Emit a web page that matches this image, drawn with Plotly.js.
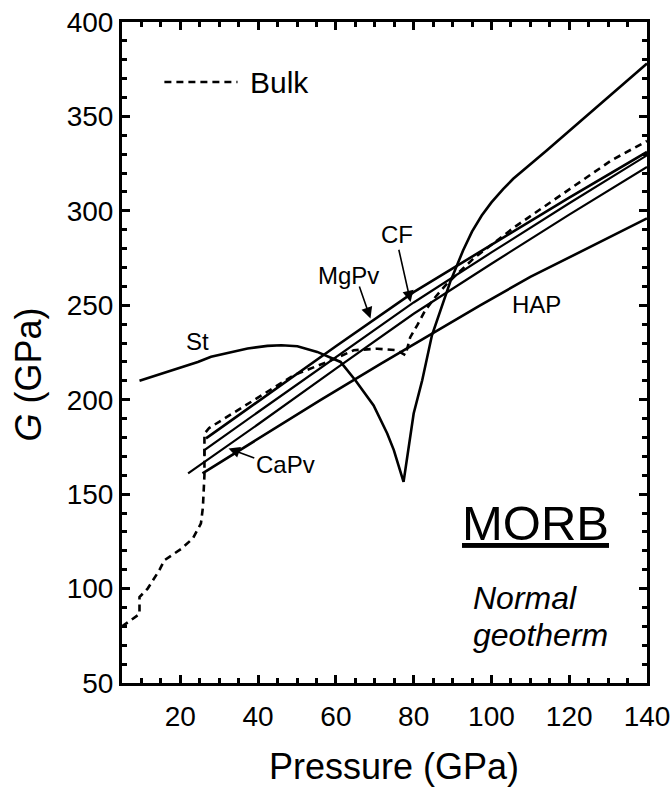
<!DOCTYPE html>
<html>
<head>
<meta charset="utf-8">
<script src="https://cdn.plot.ly/plotly-3.0.1.min.js"></script>
<style>
html,body{margin:0;padding:0;background:#fff;}
#chart{width:672px;height:789px;}
</style>
</head>
<body>
<div id="chart"></div>
<script>
// Bulk (dashed)
const bulkP = [5, 9.5, 9.5, 11.6, 14.6, 15.9, 20.2, 23.2, 25.3, 25.8, 26.2, 26.2, 27.4, 39, 49.2, 57.8, 64.6, 70.6, 75.7, 77.9, 79.1, 80.9, 83, 85.6, 88.6, 95.4, 106, 117.2, 130.9, 140];
const bulkG = [80, 86.5, 95.5, 100, 109.7, 115, 121, 126.5, 134.5, 143, 160, 182, 185, 199.7, 213, 220, 226.2, 227, 226.2, 223.6, 233, 239.4, 247.4, 254.4, 261.5, 274.8, 291.5, 307.4, 326.8, 337];
// Stishovite
const stP = [9.5, 24.5, 27.9, 37.3, 42.4, 46, 50.1, 55.2, 61.2, 65, 69.7, 73.2, 74.9, 76.2, 77.4, 80, 82.2, 84.7, 89.4, 92.7, 95, 97.5, 100, 103, 105.6, 114.2, 122.7, 131.3, 140];
const stG = [210, 220, 222.7, 227.1, 228.5, 228.8, 228.3, 225.3, 220, 210.3, 197, 182.1, 173.3, 165, 156.5, 192.7, 210.3, 234.1, 262.4, 279, 289, 297.5, 304.5, 311.5, 317, 332, 347, 362.5, 378];
// HAP
const hapP = [25.7, 40, 56, 71.5, 84.7, 97.1, 110, 124.5, 140];
const hapG = [161, 179.5, 199.8, 219, 235, 250, 265, 280, 296];
// MgPv
const mgpvP = [26.6, 40, 60, 80, 100, 120, 140];
const mgpvG = [179.5, 199.2, 228.3, 257, 282, 307, 331.2];
// CF
const cfP = [26.2, 26.2, 40, 60, 80, 100, 120, 140];
const cfG = [170, 173.3, 193.5, 222.5, 251.5, 278, 304, 329.4];
// CaPv
const capvP = [22, 40, 60, 80, 100, 120, 140];
const capvG = [161, 187, 216.5, 245.5, 272, 298, 323.2];

const FONT = 'Arial, "Liberation Sans", sans-serif';
const solid = {color: '#000', width: 2.6};

const traces = [
  {x: stP, y: stG, mode: 'lines', line: solid, name: 'St', showlegend: false},
  {x: hapP, y: hapG, mode: 'lines', line: solid, name: 'HAP', showlegend: false},
  {x: capvP, y: capvG, mode: 'lines', line: {color: '#000', width: 2.2}, name: 'CaPv', showlegend: false},
  {x: cfP, y: cfG, mode: 'lines', line: {color: '#000', width: 2.2}, name: 'CF', showlegend: false},
  {x: mgpvP, y: mgpvG, mode: 'lines', line: solid, name: 'MgPv', showlegend: false},
  {x: bulkP, y: bulkG, mode: 'lines', line: {color: '#000', width: 2.6, dash: '7px,5px'}, name: 'Bulk', showlegend: false}
];

const lbl = (x, y, t, size, extra) => Object.assign({x: x, y: y, xref: 'x', yref: 'y', text: t, showarrow: false,
  font: {family: FONT, size: size, color: '#000'}, xanchor: 'center', yanchor: 'middle'}, extra || {});
const arrow = (tx, ty, hx, hy) => ({x: hx, y: hy, ax: tx, ay: ty, xref: 'x', yref: 'y', axref: 'x', ayref: 'y',
  text: '', showarrow: true, arrowhead: 2, arrowsize: 1.4, arrowwidth: 1.6, arrowcolor: '#000'});

const layout = {
  width: 672, height: 789,
  margin: {l: 122, r: 25, t: 22, b: 106},
  paper_bgcolor: '#fff', plot_bgcolor: '#fff',
  showlegend: false,
  font: {family: FONT, color: '#000'},
  xaxis: {
    range: [5, 140], tick0: 0, dtick: 20, ticks: 'inside', ticklen: 8, tickwidth: 3, tickcolor: '#000',
    minor: {dtick: 5, ticks: 'inside', ticklen: 5, tickwidth: 3, tickcolor: '#000'},
    showline: true, linewidth: 3, linecolor: '#000', mirror: 'allticks', showgrid: false, zeroline: false,
    tickfont: {family: FONT, size: 28, color: '#000'}, ticklabelstandoff: 6
  },
  yaxis: {
    range: [50, 400], tick0: 0, dtick: 50, ticks: 'inside', ticklen: 8, tickwidth: 3, tickcolor: '#000',
    minor: {dtick: 10, ticks: 'inside', ticklen: 5, tickwidth: 3, tickcolor: '#000'},
    showline: true, linewidth: 3, linecolor: '#000', mirror: 'allticks', showgrid: false, zeroline: false,
    tickfont: {family: FONT, size: 28, color: '#000'}
  },
  shapes: [
    {type: 'line', xref: 'x', yref: 'y', x0: 15.9, x1: 34.7, y0: 368.2, y1: 368.2,
     line: {color: '#000', width: 2.6, dash: '7px,5px'}}
  ],
  annotations: [
    {xref: 'paper', yref: 'paper', x: 0.518, y: -0.127, text: 'Pressure (GPa)', showarrow: false,
     xanchor: 'center', yanchor: 'middle', font: {family: FONT, size: 36, color: '#000'}},
    {xref: 'paper', yref: 'paper', x: -0.179, y: 0.4667, text: '<i>G</i> (GPa)', showarrow: false, textangle: -90,
     xanchor: 'center', yanchor: 'middle', font: {family: FONT, size: 36, color: '#000'}},
    lbl(37.3, 368.2, 'Bulk', 30, {xanchor: 'left'}),
    lbl(24.3, 231, 'St', 24),
    lbl(63.3, 265.9, 'MgPv', 24),
    lbl(75.7, 287.6, 'CF', 24),
    lbl(47.1, 165.9, 'CaPv', 24),
    lbl(111.5, 250.6, 'HAP', 24),
    lbl(111.4, 134.5, '<u>MORB</u>', 49),
    lbl(94.8, 95.2, '<i>Normal</i>', 32, {xanchor: 'left'}),
    lbl(94.8, 75.2, '<i>geotherm</i>', 32, {xanchor: 'left'}),
    arrow(65.9, 260.8, 68.9, 243),
    arrow(76.1, 280.2, 79.2, 251.8),
    arrow(39.4, 168.9, 32.4, 174.2)
  ]
};

Plotly.newPlot('chart', traces, layout, {displayModeBar: false, staticPlot: true});
</script>
</body>
</html>
